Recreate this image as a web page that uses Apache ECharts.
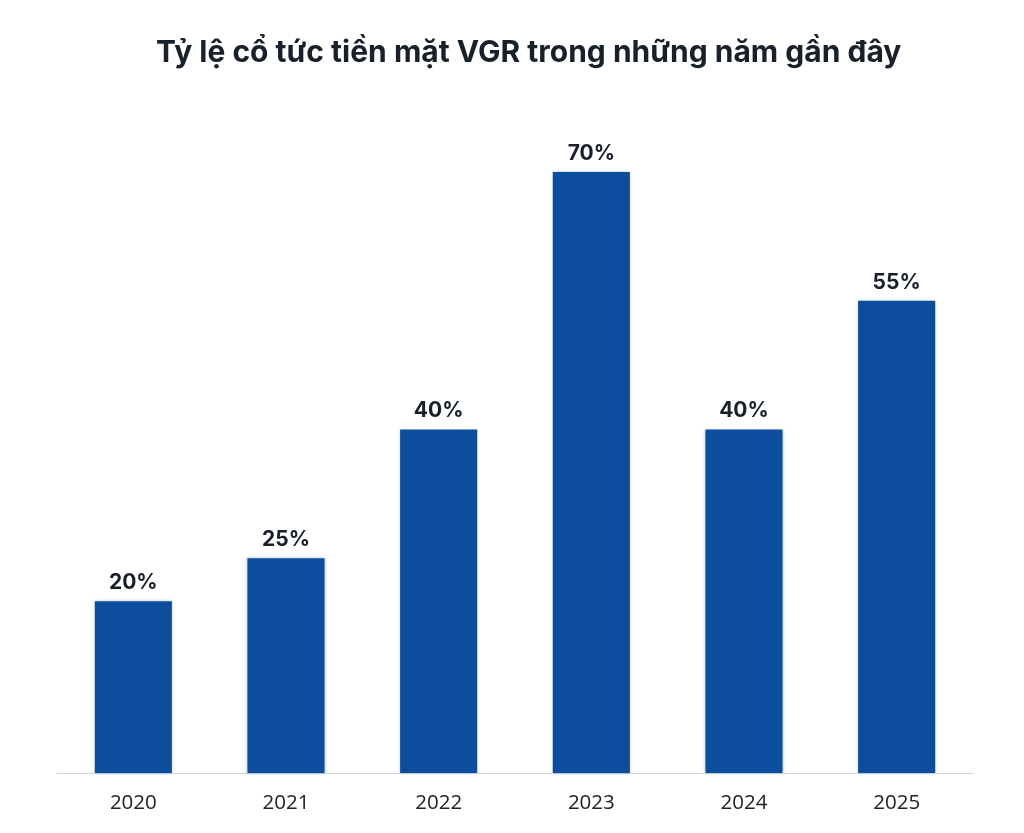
<!DOCTYPE html>
<html><head><meta charset="utf-8">
<script src="https://cdn.jsdelivr.net/npm/echarts@6/dist/echarts.min.js"></script>
<style>html,body{margin:0;padding:0;background:#fff}#c{width:1024px;height:833px}</style>
</head><body><div id="c"></div>
<script>
const years = ['2020','2021','2022','2023','2024','2025'];
const payout = [20, 25, 40, 70, 40, 55];
const chart = echarts.init(document.getElementById('c'));
chart.setOption({
  backgroundColor: '#ffffff',
  title: {
    text: 'Tỷ lệ cổ tức tiền mặt VGR trong những năm gần đây',
    left: 151, top: 33,
    textStyle: {fontFamily: 'Inter', fontWeight: 'bold', fontSize: 30, color: '#18202c'}
  },
  grid: {left: 57, right: 51, top: 172, bottom: 60},
  xAxis: {
    type: 'category', data: years,
    axisLine: {lineStyle: {color: '#d4d4d4', width: 1}},
    axisTick: {show: false},
    axisLabel: {fontFamily: 'Open Sans', fontSize: 20.5, color: '#222', margin: 20}
  },
  yAxis: {type: 'value', min: 0, max: 70, show: false, splitLine: {show: false}},
  series: [{
    type: 'bar', data: payout, barWidth: '50.5%',
    itemStyle: {color: '#0c4d9d', shadowColor: 'rgba(13,79,159,0.35)', shadowBlur: 3},
    label: {show: true, position: 'top', formatter: '{c}%', distance: 8,
      fontFamily: 'Inter', fontWeight: 'bold', fontSize: 21, color: '#18202c'}
  }]
});
</script></body></html>
